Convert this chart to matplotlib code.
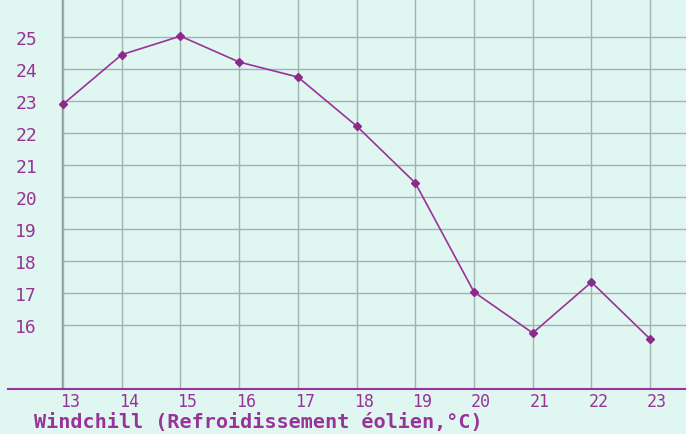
import matplotlib
matplotlib.use('Agg')
import matplotlib.pyplot as plt
import matplotlib.transforms as mtransforms
from matplotlib.lines import Line2D

# data
hours = [13, 14, 15, 16, 17, 18, 19, 20, 21, 22, 23]
windchill = [22.9, 24.45, 25.03, 24.22, 23.75, 22.22, 20.44, 17.03, 15.75, 17.34, 15.56]
y_ticks = [16, 17, 18, 19, 20, 21, 22, 23, 24, 25]
x_label = 'Windchill (Refroidissement éolien,°C)'

bg = '#dff6f1'
purple = '#993399'
grid_col = '#a3b3b0'
font = ['DejaVu Sans Mono']

fig = plt.figure(figsize=(6.86, 4.35), dpi=100, facecolor=bg)
ax = fig.add_axes([62 / 686, 1 - 390 / 435, 1 - 62 / 686, 390 / 435])
ax.set_facecolor(bg)

ax.set_xlim(12.983, 23.61)
ax.set_ylim(14.0, 26.19)
ax.set_xticks(hours)
ax.set_yticks(y_ticks)
ax.grid(True, color=grid_col, linewidth=1.0)
ax.set_axisbelow(True)

for s in ['top', 'right', 'bottom']:
    ax.spines[s].set_visible(False)
ax.spines['left'].set_color('#8a9a98')
ax.spines['left'].set_linewidth(1.0)

ax.tick_params(length=0, labelcolor=purple)
ax.tick_params(axis='x', pad=2, labelsize=12)
ax.tick_params(axis='y', pad=18, labelsize=13)
for lbl in ax.get_xticklabels() + ax.get_yticklabels():
    lbl.set_family(font)
offset = mtransforms.ScaledTranslation(7 / 100, 0, fig.dpi_scale_trans)
for lbl in ax.get_xticklabels():
    lbl.set_transform(lbl.get_transform() + offset)

ax.plot(hours, windchill, color=purple, linewidth=1.2, marker='D',
        markersize=4.5, markerfacecolor='#8b2a8b', markeredgecolor='#8b2a8b',
        clip_on=False, zorder=3)

# bottom axis line extending past the left edge
fig.add_artist(Line2D([8 / 686, 1.0], [1 - 390 / 435] * 2, color=purple,
                      linewidth=1.5, transform=fig.transFigure))

fig.text(34 / 686, 1 - 423 / 435, x_label, color=purple, fontsize=14.5,
         fontweight='bold', family=font, va='center', ha='left')

fig.savefig('out.png', dpi=100, facecolor=bg)
